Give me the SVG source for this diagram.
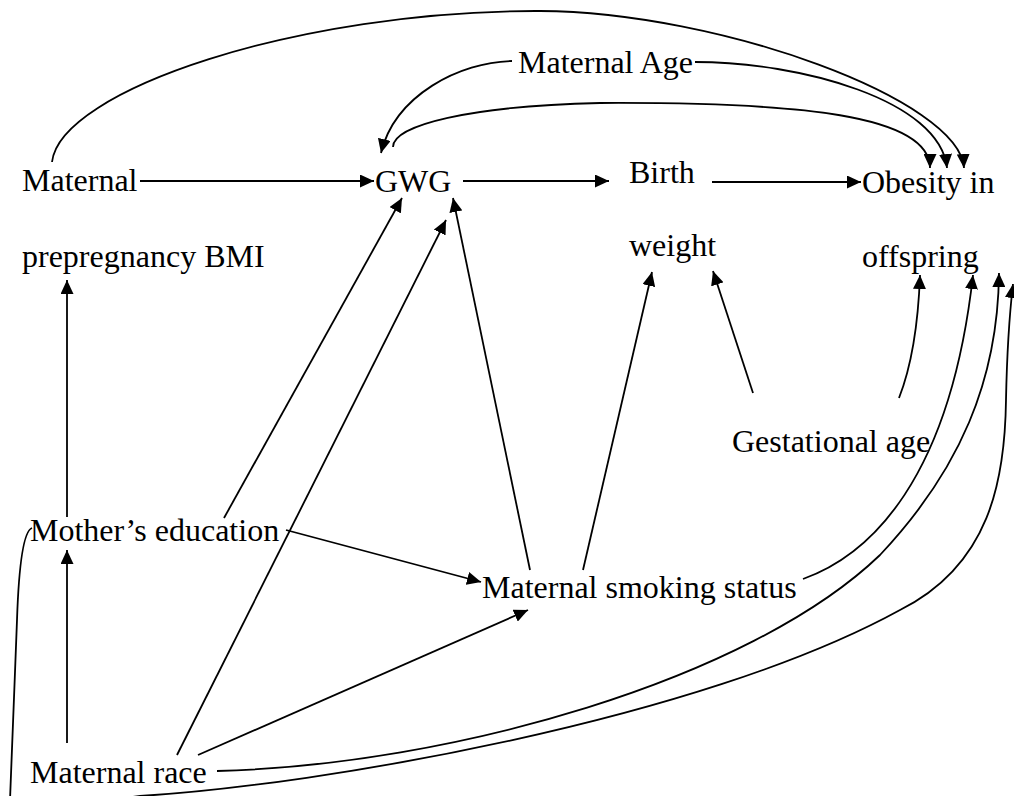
<svg xmlns="http://www.w3.org/2000/svg" width="1014" height="796" viewBox="0 0 1014 796">
<style>
text{font-family:"Liberation Serif","Times New Roman",serif;font-size:32px;fill:#000}
.c{fill:none;stroke:#000;stroke-width:1.8;marker-end:url(#ah)}
</style>
<defs>
<marker id="ah" viewBox="0 0 14 13" refX="14" refY="6.5" markerWidth="14" markerHeight="13" markerUnits="userSpaceOnUse" orient="auto">
<path d="M0,0 L14,6.5 L0,13 z" fill="#000"/>
</marker>
</defs>
<rect width="1014" height="796" fill="#fff"/>
<g id="connectors">
<path class="c" d="M140,181 L374,181"/>
<path class="c" d="M463,181 L609,181"/>
<path class="c" d="M712,182 L861,182"/>
<path class="c" d="M52,162 C60,90 300,10 540,11 C720,12 960,100 964,168"/>
<path class="c" d="M512,61 C460,62 395,95 381,153"/>
<path class="c" d="M695,62 C800,62 940,100 947,168"/>
<path class="c" d="M393,147 C393,125 470,106 600,103 C800,102 930,115 930,168"/>
<path class="c" d="M67,517 L67,280"/>
<path class="c" d="M67,743 L67,550"/>
<path class="c" d="M224,518 L402,198"/>
<path class="c" d="M177,755 L446,220"/>
<path class="c" d="M530,570 L453,198"/>
<path class="c" d="M583,570 L652,272"/>
<path class="c" d="M753,393 L713,271"/>
<path class="c" d="M286,530 L481,582"/>
<path class="c" d="M198,755 L528,610"/>
<path class="c" d="M899,398 C910,370 918,330 920,275"/>
<path class="c" d="M803,579 C870,555 950,480 973,275"/>
<path class="c" d="M217,771 C450,765 750,680 880,555 C960,470 998,380 999,273"/>
<path class="c" d="M32,528 C24,531 19,560 17,620 C15,680 11,760 10,800 C9,820 60,806 140,796 C320,785 700,720 900,610 C990,565 1005,480 1006,400 C1007,350 1010,310 1013,284"/>
</g>
<g id="maternal-bmi"><text x="22" y="191">Maternal</text><text x="22" y="267">prepregnancy BMI</text></g>
<g id="gwg"><text x="375" y="192">GWG</text></g>
<g id="birth-weight"><text x="629" y="183">Birth</text><text x="629" y="256">weight</text></g>
<g id="obesity"><text x="862" y="193">Obesity in</text><text x="862" y="267">offspring</text></g>
<g id="maternal-age"><text x="518" y="73">Maternal Age</text></g>
<g id="gestational-age"><text x="732" y="452">Gestational age</text></g>
<g id="mother-education"><text x="30" y="541">Mother’s education</text></g>
<g id="smoking"><text x="482" y="598">Maternal smoking status</text></g>
<g id="race"><text x="30" y="783">Maternal race</text></g>
</svg>
